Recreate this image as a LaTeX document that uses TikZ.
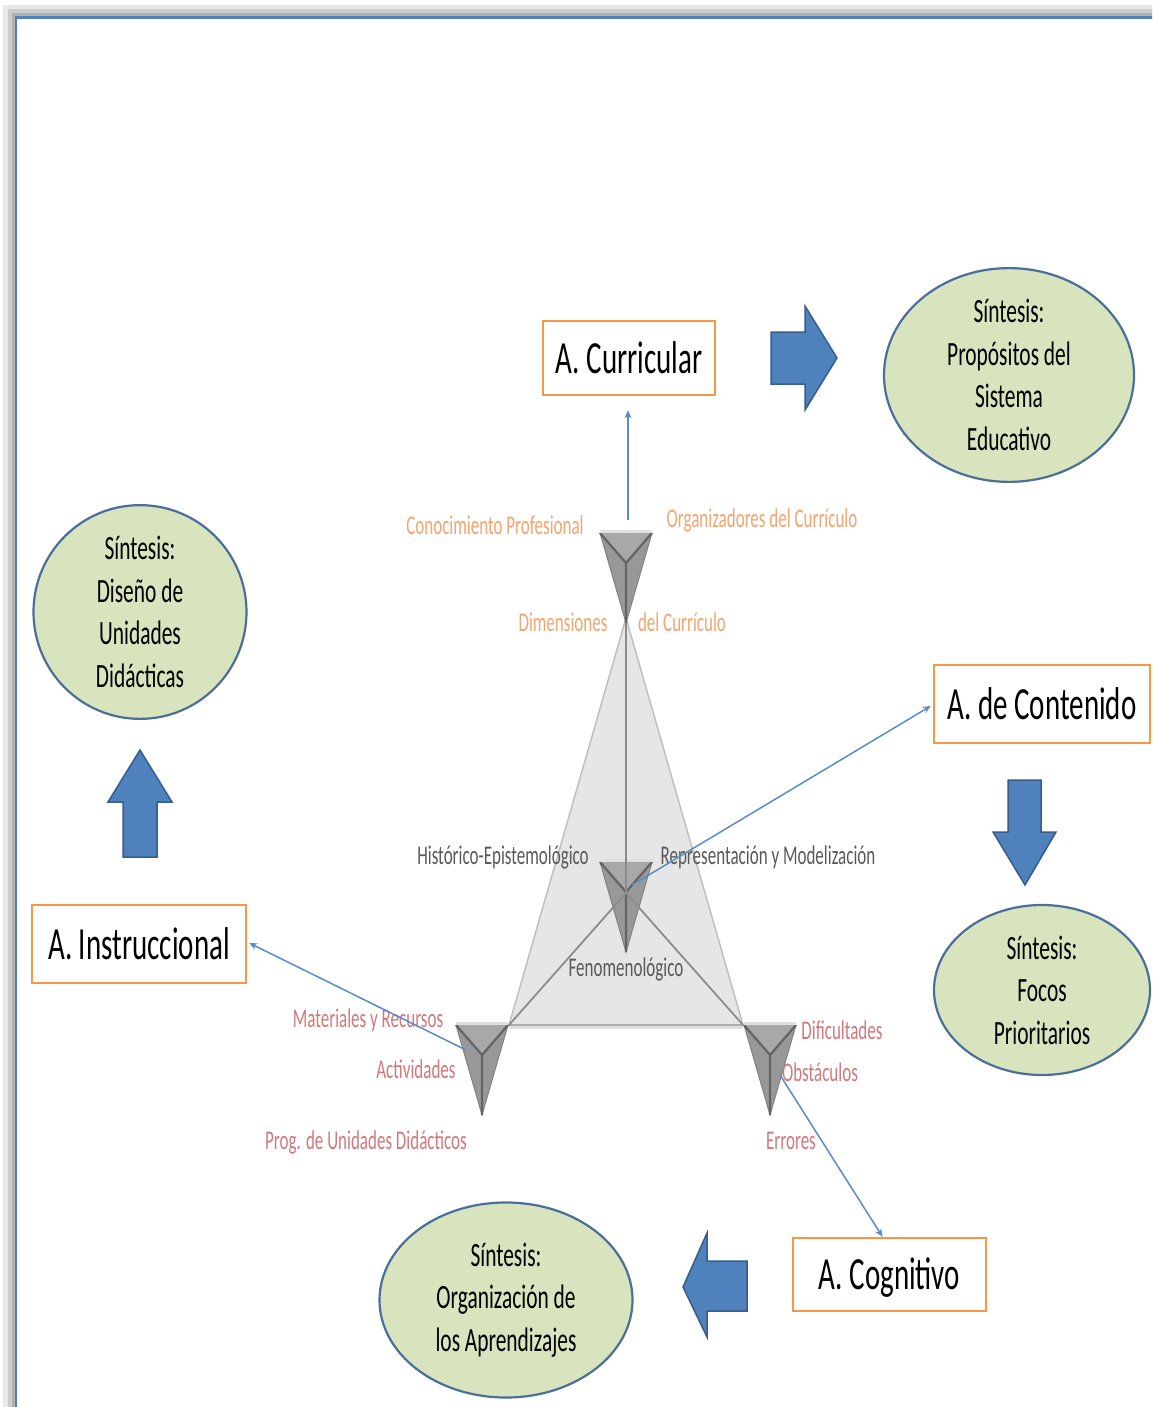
\documentclass[tikz,border=0pt]{standalone}
\usepackage{fontspec}
\newfontfamily\nf{Carlito}[FakeStretch=0.63]
\usetikzlibrary{shapes.geometric,arrows.meta,calc}

\definecolor{boxorange}{RGB}{247,150,70}
\definecolor{frameblue}{RGB}{79,129,189}
\definecolor{arrowblue}{RGB}{79,129,189}
\definecolor{arrowedge}{RGB}{56,93,138}
\definecolor{connblue}{RGB}{90,140,200}
\definecolor{ellfill}{RGB}{215,228,189}
\definecolor{elledge}{RGB}{75,110,155}
\definecolor{lblorange}{RGB}{244,164,112}
\definecolor{lblred}{RGB}{210,120,122}
\definecolor{lblgray}{RGB}{89,89,89}
\definecolor{trifill}{RGB}{230,230,230}
\definecolor{triedge}{RGB}{192,192,192}
\definecolor{trinner}{RGB}{140,140,140}
\definecolor{tetfill}{RGB}{152,152,152}
\definecolor{tetface}{RGB}{168,168,168}
\definecolor{tetedge}{RGB}{130,130,130}
\definecolor{tety}{RGB}{100,100,100}

\tikzset{
  abox/.style={draw=boxorange, line width=2.5pt, fill=white, inner sep=0pt,
    font=\nf\fontsize{46}{50}\selectfont, text height=30pt, text depth=0pt},
  synth/.style={ellipse, draw=elledge, line width=2.2pt, fill=ellfill, inner sep=0pt,
    align=center, font=\nf\fontsize{34}{42.5}\selectfont},
  lbl/.style={inner sep=0pt, anchor=base, font=\nf\fontsize{27}{30}\selectfont},
  conn/.style={draw=connblue, line width=1.5pt, -{Stealth[length=8pt,width=7pt]}},
  blockarrow/.style={fill=arrowblue, draw=arrowedge, line width=1.5pt, line join=miter},
}

% an inverted tetrahedron seen from above: top edge centred at (x,y)
\newcommand{\tetrahedron}[3]{%
  \coordinate (#1-l) at ({#2-26},#3);
  \coordinate (#1-r) at ({#2+26},#3);
  \coordinate (#1-t) at (#2,{#3+90});
  \coordinate (#1-c) at (#2,{#3+30});
  \fill[tetfill] (#1-l) -- (#1-r) -- (#1-t) -- cycle;
  \fill[tetface] (#1-l) -- (#1-r) -- (#1-c) -- cycle;
  \draw[tetedge, line width=1pt] (#1-l) -- (#1-t) -- (#1-r);
  \draw[tety, line width=2.2pt] (#1-l) -- (#1-c) -- (#1-r) (#1-c) -- (#1-t);
  \draw[gray!25, line width=3pt] ([yshift=1.5pt]#1-l) -- ([yshift=1.5pt]#1-r);
}

\begin{document}
\begin{tikzpicture}[x=1pt,y=-1pt]
\clip (0,0) rectangle (1152,1407);
\fill[white] (0,0) rectangle (1152,1407);

% page frame with its shadow
\draw[gray!18, line width=10pt] (8,10) rectangle (1220,1450);
\draw[gray!40, line width=6pt] (10.5,12.5) rectangle (1220,1450);
\draw[gray!62, line width=3pt] (13,15) rectangle (1220,1450);
\draw[frameblue, line width=2.5pt] (16,17.5) rectangle (1220,1450);

% base triangle of the model
\coordinate (T) at (626,618);
\coordinate (L) at (509,1025);
\coordinate (R) at (743,1025);
\coordinate (C) at (626,893);
\fill[trifill] (T) -- (L) -- (R) -- cycle;
\draw[triedge, line width=1.5pt] (L) -- (T) -- (R);
\draw[gray!25, line width=3pt] ([yshift=-2pt]L) -- ([yshift=-2pt]R);
\draw[gray!65, line width=2.5pt] (L) -- (R);

% the four tetrahedra
\tetrahedron{top}{626}{533}
\tetrahedron{mid}{626}{862}
\tetrahedron{lft}{482}{1025}
\tetrahedron{rgt}{770}{1025}

% edges from the centre to the vertices
\draw[trinner, line width=1.8pt] (top-t) -- (C);
\draw[trinner, line width=1.8pt] (C) -- (L);
\draw[trinner, line width=1.8pt] (C) -- (R);

% labels round the tetrahedra
\node[lbl, text=lblorange] (kprof) at (495,534) {Conocimiento Profesional};
\node[lbl, text=lblorange] (korg) at (762,527) {Organizadores del Currículo};
\node[lbl, text=lblorange] (kdim) at (563,631) {Dimensiones};
\node[lbl, text=lblorange] (kdel) at (682,631) {del Currículo};
\node[lbl, text=lblgray] (khist) at (503,864) {Histórico-Epistemológico};
\node[lbl, text=lblgray] (krep) at (768,864) {Representación y Modelización};
\node[lbl, text=lblgray] (kfen) at (626,976) {Fenomenológico};
\node[lbl, text=lblred] (kmat) at (368,1027) {Materiales y Recursos};
\node[lbl, text=lblred] (kact) at (416,1078) {Actividades};
\node[lbl, text=lblred] (kprog) at (366,1149) {Prog. de Unidades Didácticos};
\node[lbl, text=lblred] (kdif) at (842,1039) {Dificultades};
\node[lbl, text=lblred] (kobs) at (820,1081) {Obstáculos};
\node[lbl, text=lblred] (kerr) at (791,1149) {Errores};

% analysis boxes
\node[abox, minimum width=172pt, minimum height=74pt] (cur) at (629,358) {A. Curricular};
\node[abox, minimum width=214pt, minimum height=78pt] (ins) at (139,944) {A. Instruccional};
\node[abox, minimum width=216pt, minimum height=78pt] (con) at (1042,704) {A. de Contenido};
\node[abox, minimum width=193pt, minimum height=73pt] (cog) at (889.5,1274.5) {A. Cognitivo};

% synthesis ellipses
\node[synth, minimum width=250pt, minimum height=184pt] (sprop) at (1009,375)
  {Síntesis:\\Propósitos del\\Sistema\\Educativo};
\node[synth, minimum width=213pt, minimum height=186pt] (sdis) at (140,612)
  {Síntesis:\\Diseño de\\Unidades\\Didácticas};
\node[synth, minimum width=216pt, minimum height=170pt] (sfoc) at (1042,990)
  {Síntesis:\\Focos\\Prioritarios};
\node[synth, minimum width=253pt, minimum height=195pt] (sorg) at (506,1300)
  {Síntesis:\\Organización de\\los Aprendizajes};

% block arrows from each analysis to its synthesis
\draw[blockarrow] (771,332) -- (805,332) -- (805,306) -- (837,358) -- (805,410) -- (805,384) -- (771,384) -- cycle;
\draw[blockarrow] (123,857) -- (123,802) -- (108,802) -- (140,750) -- (172,802) -- (157,802) -- (157,857) -- cycle;
\draw[blockarrow] (1008,780) -- (1041,780) -- (1041,832) -- (1056,832) -- (1025,885) -- (993,832) -- (1008,832) -- cycle;
\draw[blockarrow] (747,1261) -- (707,1261) -- (707,1233) -- (683,1287) -- (707,1337) -- (707,1311) -- (747,1311) -- cycle;

% connectors from the tetrahedra to the analyses
\coordinate (pcur) at (628,520);
\coordinate (pcon) at (632,885);
\coordinate (pins) at (466,1050);
\coordinate (pcog) at (780,1075);
\draw[conn, shorten >=14pt] (pcur) -- (cur.south -| pcur);
\draw[conn] (pcon) -- ($(con.west)+(-2,2)$);
\draw[conn] (pins) -- ($(ins.east)+(2,-1)$);
\draw[conn] (pcog) -- ($(cog.north)+(-7,0)$);
\end{tikzpicture}
\end{document}
